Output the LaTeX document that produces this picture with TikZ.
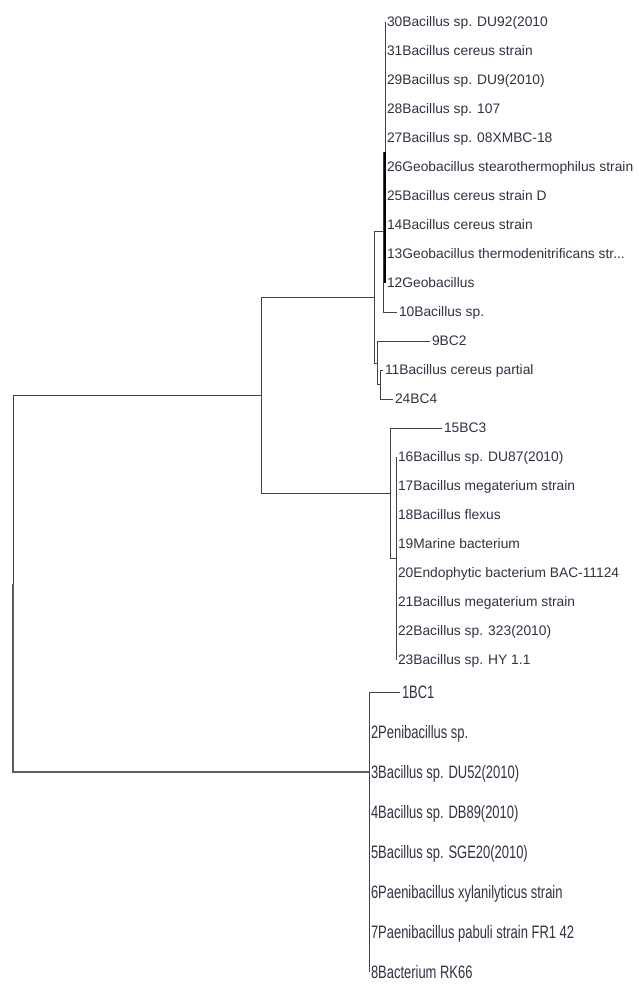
\documentclass[tikz,border=0pt]{standalone}
\usepackage{fontspec}
\setmainfont{Liberation Sans}
\newfontfamily\condfont[FakeStretch=0.72]{Liberation Sans}
\definecolor{txt}{RGB}{58,46,66}
\definecolor{ln}{RGB}{66,66,66}
\begin{document}
\begin{tikzpicture}[x=1pt,y=-1pt,
  edge/.style={draw=ln,line width=1pt},
  lab/.style={anchor=west,inner xsep=1.8pt,inner ysep=0pt,text=txt,font=\fontsize{13.8}{14}\selectfont,text height=9.9pt,text depth=0pt},
  labc/.style={anchor=west,inner xsep=1.8pt,inner ysep=0pt,text=txt,font=\condfont\fontsize{18}{19}\selectfont,text height=12.9pt,text depth=0pt}]
\useasboundingbox (0,0) rectangle (639,984);
\fill[white] (0,0) rectangle (639,984);
% internal nodes
\coordinate (root) at (13,583.5);
\coordinate (nU) at (261,395);
\coordinate (nT) at (374,297.5);
\coordinate (nA) at (383,232);
\coordinate (nA1) at (385,152.5);
\coordinate (nB) at (377,363);
\coordinate (nC) at (380,384.5);
\coordinate (nM) at (390,493);
\coordinate (nM1) at (396,558.5);
\coordinate (nL) at (369,772);
\coordinate (nL1) at (369,852);
% top leaves
\node[lab] (l30) at (385,22) {30Bacillus sp. DU92(2010};
\node[lab] (l31) at (385,51) {31Bacillus cereus strain};
\node[lab] (l29) at (385,80) {29Bacillus sp. DU9(2010)};
\node[lab] (l28) at (385,109) {28Bacillus sp. 107};
\node[lab] (l27) at (385,138) {27Bacillus sp. 08XMBC-18};
\node[lab] (l26) at (385,167) {26Geobacillus stearothermophilus strain};
\node[lab] (l25) at (385,196) {25Bacillus cereus strain D};
\node[lab] (l14) at (385,225) {14Bacillus cereus strain};
\node[lab] (l13) at (385,254) {13Geobacillus thermodenitrificans str...};
\node[lab] (l12) at (385,283) {12Geobacillus};
\node[lab] (l10) at (397,312) {10Bacillus sp.};
\node[lab] (l9) at (430,341) {9BC2};
\node[lab] (l11) at (383,370) {11Bacillus cereus partial};
\node[lab] (l24) at (393,399) {24BC4};
% middle leaves
\node[lab] (l15) at (442,428) {15BC3};
\node[lab] (l16) at (396,457) {16Bacillus sp. DU87(2010)};
\node[lab] (l17) at (396,486) {17Bacillus megaterium strain};
\node[lab] (l18) at (396,515) {18Bacillus flexus};
\node[lab] (l19) at (396,544) {19Marine bacterium};
\node[lab] (l20) at (396,573) {20Endophytic bacterium BAC-11124};
\node[lab] (l21) at (396,602) {21Bacillus megaterium strain};
\node[lab] (l22) at (396,631) {22Bacillus sp. 323(2010)};
\node[lab] (l23) at (396,660) {23Bacillus sp. HY 1.1};
% bottom leaves
\node[labc] (l1) at (400,692) {1BC1};
\node[labc] (l2) at (369,732) {2Penibacillus sp.};
\node[labc] (l3) at (369,772) {3Bacillus sp. DU52(2010)};
\node[labc] (l4) at (369,812) {4Bacillus sp. DB89(2010)};
\node[labc] (l5) at (369,852) {5Bacillus sp. SGE20(2010)};
\node[labc] (l6) at (369,892) {6Paenibacillus xylanilyticus strain};
\node[labc] (l7) at (369,932) {7Paenibacillus pabuli strain FR1 42};
\node[labc] (l8) at (369,972) {8Bacterium RK66};
% edges
\draw[edge] (root) |- (nU);
\draw[edge,line width=2pt,draw=ln!85] (root) |- (nL);
\draw[edge] (nU) |- (nT);
\draw[edge] (nU) |- (nM);
\draw[edge] (nT) |- (nA);
\draw[edge] (nT) |- (nB);
\draw[edge] (nA) |- (nA1);
\draw[edge] (nA) |- (l10.west);
\foreach \l in {l30,l31,l29,l28,l27,l26,l25,l14,l13,l12}
  \draw[edge] (nA1) |- (\l.west);
\draw[line width=2.2pt,black] (nA1) -- (nA1 |- l12.west);
\draw[edge] (nB) |- (l9.west);
\draw[edge] (nB) |- (nC);
\draw[edge] (nC) |- (l11.west);
\draw[edge] (nC) |- (l24.west);
\draw[edge] (nM) |- (l15.west);
\draw[edge] (nM) |- (nM1);
\foreach \l in {l16,l17,l18,l19,l20,l21,l22,l23}
  \draw[edge] (nM1) |- (\l.west);
\draw[edge] (nL) |- (l1.west);
\draw[edge] (nL) |- (nL1);
\foreach \l in {l2,l3,l4,l5,l6,l7,l8}
  \draw[edge] (nL1) |- (\l.west);
\end{tikzpicture}
\end{document}
